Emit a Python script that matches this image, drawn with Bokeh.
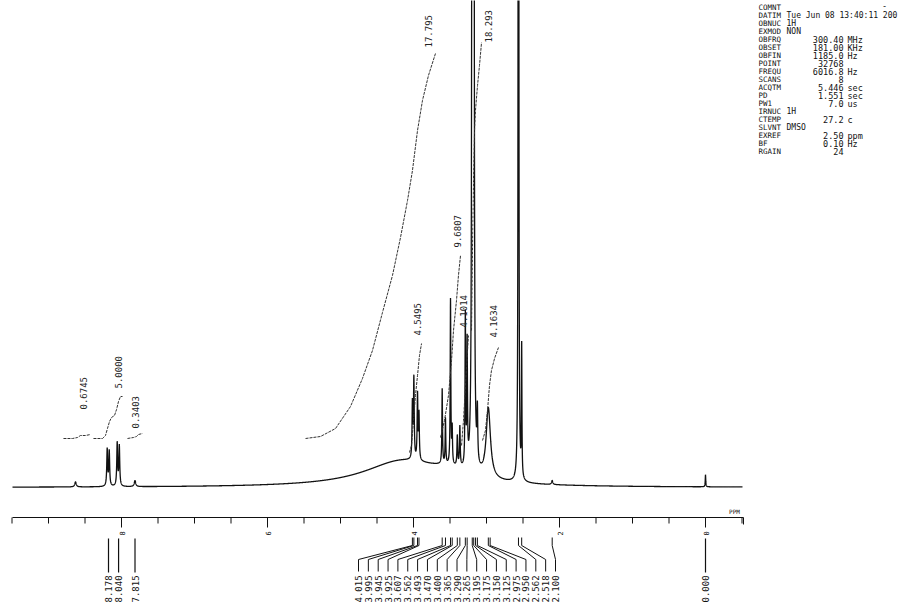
import numpy as np
from bokeh.plotting import figure
from bokeh.models import Range1d
from bokeh.core.properties import value
from bokeh.embed import file_html
from bokeh.resources import INLINE

# ---------------- data ----------------
# intensity unit: arbitrary (height above baseline)
peak_ppm = [4.15, 3.50,
            8.630, 8.196, 8.168, 8.059, 8.030, 7.815,
            4.015, 3.995, 3.945, 3.925,
            3.607, 3.562, 3.493, 3.470, 3.400, 3.365, 3.290, 3.265,
            3.195, 3.175, 3.125,
            2.975,
            2.562, 2.518,
            2.100, 0.000]
peak_height = [26, 8,
               5, 37, 35, 43, 40, 6,
               55, 80, 65, 45,
               75, 45, 165, 35, 30, 40, 150, 120,
               2500, 2200, 50,
               70,
               2500, 130,
               4, 12]
peak_hwhm = [0.65, 0.30,
             0.012, 0.007, 0.007, 0.007, 0.007, 0.012,
             0.006, 0.006, 0.006, 0.006,
             0.005, 0.005, 0.005, 0.005, 0.006, 0.006, 0.005, 0.005,
             0.004, 0.004, 0.006,
             0.035,
             0.003, 0.004,
             0.010, 0.004]

# integral curves (ppm, height)
int1_ppm = [8.795, 8.671, 8.603, 8.562, 8.493, 8.425]
int1_val = [49, 49, 50, 52, 52, 53]
int2_ppm = [8.384, 8.260, 8.219, 8.192, 8.164, 8.137, 8.096, 8.068, 8.041, 8.014, 7.986]
int2_val = [49, 49, 52, 59, 66, 70, 72, 78, 86, 91, 91]
int3_ppm = [7.918, 7.836, 7.795, 7.767, 7.712]
int3_val = [49, 50, 51, 53, 54]
int4_ppm = [5.479, 5.274, 5.068, 4.863, 4.699, 4.562, 4.425, 4.288, 4.178, 4.082, 4.014, 3.945, 3.877, 3.795, 3.699]
int4_val = [49, 51, 59, 81, 109, 137, 175, 212, 250, 287, 317, 357, 387, 412, 434]
int5_ppm = [4.055, 4.027, 4.000, 3.973, 3.945, 3.918, 3.890]
int5_val = [35, 42, 67, 92, 112, 132, 144]
int6_ppm = [3.630, 3.575, 3.521, 3.479, 3.452, 3.411, 3.384, 3.356]
int6_val = [50, 67, 92, 127, 157, 187, 212, 232]
int7_ppm = [3.342, 3.315, 3.288, 3.260, 3.247]
int7_val = [42, 67, 102, 137, 152]
int8_ppm = [3.205, 3.192, 3.178, 3.164, 3.151, 3.123, 3.096, 3.068]
int8_val = [157, 237, 307, 357, 377, 402, 422, 445]
int9_ppm = [3.055, 3.014, 2.986, 2.959, 2.932, 2.890, 2.836]
int9_val = [47, 57, 77, 102, 117, 129, 140]
integrals = [(int1_ppm, int1_val), (int2_ppm, int2_val), (int3_ppm, int3_val),
             (int4_ppm, int4_val), (int5_ppm, int5_val), (int6_ppm, int6_val),
             (int7_ppm, int7_val), (int8_ppm, int8_val), (int9_ppm, int9_val)]

int_label = ["0.6745", "5.0000", "0.3403", "17.795", "4.5495", "9.6807", "4.1014", "18.293", "4.1634"]
int_label_ppm = [8.521, 8.041, 7.808, 3.795, 3.945, 3.397, 3.315, 2.973, 2.904]
int_label_val = [78, 99, 59, 440, 152, 240, 160, 445, 150]

# peak picking
pick_arom = [8.178, 8.040, 7.815]
pick_tms = [0.000]
pick_mid = [4.015, 3.995, 3.945, 3.925,
            3.607, 3.562, 3.493, 3.470, 3.400, 3.365,
            3.290, 3.265,
            3.195, 3.175, 3.150, 3.125,
            2.975, 2.950,
            2.562, 2.518,
            2.100]

# ppm scale
minor_ticks = [9.5, 9.0, 8.5, 7.5, 7.0, 6.5, 5.5, 5.0, 4.5, 3.5, 3.0, 2.5, 1.5, 1.0, 0.5, -0.5]
major_ticks = [8, 6, 4, 2, 0]
major_labels = ["8", "6", "4", "2", "0"]

params_key = ["COMNT", "DATIM", "OBNUC", "EXMOD", "OBFRQ", "OBSET", "OBFIN", "POINT", "FREQU",
              "SCANS", "ACQTM", "PD", "PW1", "IRNUC", "CTEMP", "SLVNT", "EXREF", "BF", "RGAIN"]
params_text = ["", "Tue Jun 08 13:40:11 200", "1H", "NON", "", "", "", "", "",
               "", "", "", "", "1H", "", "DMSO", "", "", ""]
params_num = ["", "", "", "", "300.40", "181.00", "1185.0", "32768", "6016.8",
              "8", "5.446", "1.551", "7.0", "", "27.2", "", "2.50", "0.10", "24"]
params_unit = ["", "", "", "", "MHz", "KHz", "Hz", "", "Hz",
               "", "sec", "sec", "us", "", "c", "", "ppm", "Hz", ""]

# ---------------- layout constants (pixels <-> data) ----------------
PX_PER_PPM = 73.0
X0 = 705.0          # pixel of 0 ppm
BASE = 487.0        # pixel row of baseline
W, H = 903, 604


def vy(py):  # pixel row -> data value
    return BASE - py


def vx(px):
    return (X0 - px) / PX_PER_PPM


p = figure(width=W, height=H, output_backend="svg", toolbar_location=None,
           x_range=Range1d(vx(0), vx(W)), y_range=Range1d(vy(H), vy(0)),
           x_axis_location=None, y_axis_location=None, min_border=0)
p.outline_line_color = None
p.grid.grid_line_color = None
p.background_fill_color = "white"
p.border_fill_color = "white"

INK = "#111111"
MONO = value("DejaVu Sans Mono")

# spectrum
grid = np.concatenate([np.linspace(vx(12), vx(742), 9001), np.array(peak_ppm)])
grid = grid[(grid <= vx(12)) & (grid >= vx(742))]
grid = np.sort(grid)[::-1]
spec = np.zeros_like(grid)
for c, h, w in zip(peak_ppm, peak_height, peak_hwhm):
    spec += h / (1.0 + ((grid - c) / w) ** 2)
p.line(grid, spec, line_color=INK, line_width=1.3)

# integrals
for xs, ys in integrals:
    p.line(xs, ys, line_color="#333333", line_width=1.0, line_dash="3 1")
p.text(int_label_ppm, int_label_val, text=int_label, angle=np.pi / 2,
       text_font=MONO, text_font_size="9px", text_align="left",
       text_baseline="middle", text_color="#222222")

# ppm ruler
RY = 517
ay = vy(RY)
p.segment(x0=[vx(12)], y0=[ay], x1=[vx(743)], y1=[ay], line_color=INK, line_width=1.2)
p.segment(x0=minor_ticks, y0=[ay] * len(minor_ticks), x1=minor_ticks,
          y1=[vy(RY + 6)] * len(minor_ticks), line_color=INK, line_width=1)
p.segment(x0=major_ticks, y0=[ay] * len(major_ticks), x1=major_ticks,
          y1=[vy(RY + 10)] * len(major_ticks), line_color=INK, line_width=1)
p.segment(x0=[vx(743)], y0=[ay], x1=[vx(743)], y1=[vy(RY + 7)], line_color=INK, line_width=1)
p.text(major_ticks, [vy(RY + 16)] * len(major_ticks), text=major_labels, angle=np.pi / 2,
       text_font=MONO, text_font_size="7px", text_align="center",
       text_baseline="middle", text_color=INK)
p.text([vx(734)], [vy(RY - 6)], text=["PPM"], text_font=MONO, text_font_size="6px",
       text_align="center", text_baseline="middle", text_color=INK)

# peak-pick connectors and labels
straight = pick_arom + pick_tms
p.segment(x0=straight, y0=[vy(RY + 21)] * len(straight), x1=straight,
          y1=[vy(572)] * len(straight), line_color=INK, line_width=1.2)
lab_x = list(np.linspace(vx(358), vx(555), len(pick_mid)))
xs, ys = [], []
for pk, lx in zip(pick_mid, lab_x):
    xs.append([pk, pk, lx, lx])
    ys.append([vy(RY + 20), vy(RY + 28), vy(559), vy(571)])
p.multi_line(xs, ys, line_color=INK, line_width=1.0)
all_x = straight + lab_x
all_t = ["%.3f" % v for v in straight + pick_mid]
p.text(all_x, [vy(602)] * len(all_x), text=all_t, angle=np.pi / 2,
       text_font=MONO, text_font_size="9px", text_align="left",
       text_baseline="middle", text_color=INK)

# parameter block
rows = [vy(7 + 8.0 * i) for i in range(len(params_key))]
p.text([vx(758)] * len(rows), rows, text=params_key, text_font=MONO, text_font_size="7.5px",
       text_align="left", text_baseline="middle", text_color=INK)
p.text([vx(786)] * len(rows), rows, text=params_text, text_font=MONO, text_font_size="8px",
       text_align="left", text_baseline="middle", text_color=INK)
p.text([vx(843)] * len(rows), rows, text=params_num, text_font=MONO, text_font_size="8.5px",
       text_align="right", text_baseline="middle", text_color=INK)
p.text([vx(847)] * len(rows), rows, text=params_unit, text_font=MONO, text_font_size="8.5px",
       text_align="left", text_baseline="middle", text_color=INK)
p.text([vx(884)], [vy(5)], text=["-"], text_font=MONO, text_font_size="8.5px",
       text_align="center", text_baseline="middle", text_color=INK)

open("out.html", "w").write(file_html(p, INLINE))
